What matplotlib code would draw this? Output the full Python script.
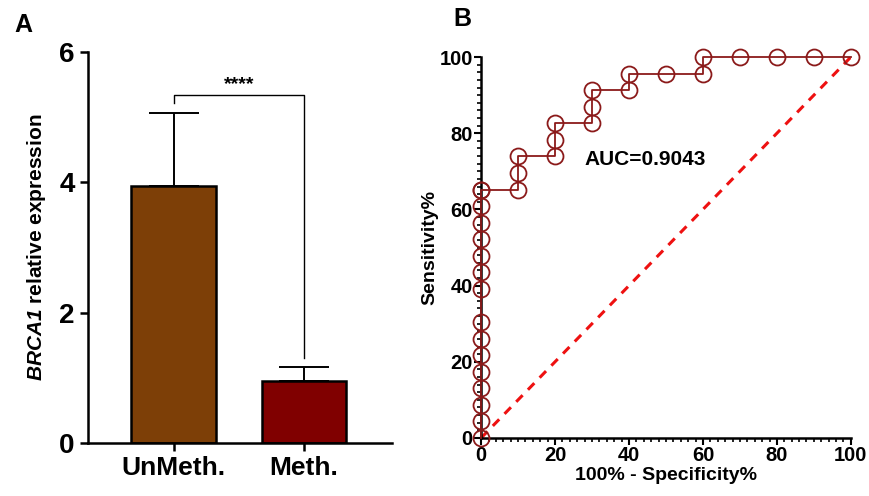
import matplotlib.pyplot as plt
from matplotlib.ticker import MultipleLocator

plt.rcParams['font.family'] = ['Liberation Sans', 'DejaVu Sans']
plt.rcParams['font.weight'] = 'bold'
plt.rcParams['mathtext.fontset'] = 'custom'
plt.rcParams['mathtext.it'] = 'Liberation Sans:italic:bold'
plt.rcParams['mathtext.rm'] = 'Liberation Sans:italic:bold'

# panel A data
groups = ["UnMeth.", "Meth."]
means = [3.95, 0.95]
sds = [1.12, 0.22]
bar_colors = ["#7D3F07", "#800000"]
sig_label = "****"

# panel B data (ROC)
spec = [0, 0, 0, 0, 0, 0, 0, 0, 0, 0, 0, 0, 0, 0, 0, 0,
        10, 10, 10, 20, 20, 20, 30, 30, 30, 40, 40, 50, 60, 60, 70, 80, 90, 100]
sens = [0, 4.35, 8.70, 13.04, 17.39, 21.74, 26.09, 30.43, 39.13, 43.48,
        47.83, 52.17, 56.52, 60.87, 65.22, 65.22,
        65.22, 69.57, 73.91, 73.91, 78.26, 82.61, 82.61, 86.96, 91.30,
        91.30, 95.65, 95.65, 95.65, 100, 100, 100, 100, 100]
auc = 0.9043

fig = plt.figure(figsize=(8.7, 4.96), dpi=100)

# ---- A ----
ax1 = fig.add_axes([0.101, 0.107, 0.350, 0.788])
x = [0, 1]
ax1.bar(x, means, width=0.65, color=bar_colors, edgecolor='black', linewidth=1.8, zorder=2)
for xi, m, s in zip(x, means, sds):
    ax1.errorbar(xi, m, yerr=[[0], [s]], color='black', capsize=18, capthick=1.4,
                 elinewidth=1.4, zorder=1)
ax1.plot([0, 0, 1, 1], [5.22, 5.34, 5.34, 1.30], color='black', lw=1.0)
ax1.text(0.5, 5.37, sig_label, ha='center', va='bottom', fontsize=14)
ax1.set_xlim(-0.66, 1.68)
ax1.set_ylim(0, 6)
ax1.set_yticks([0, 2, 4, 6])
ax1.set_xticks(x)
ax1.set_xticklabels(groups, fontsize=19, fontweight='bold')
ax1.tick_params(axis='y', labelsize=20, width=1.8, length=6)
ax1.tick_params(axis='x', width=1.8, length=6)
for t in ax1.get_yticklabels():
    t.set_fontweight('bold')
for sp in ['top', 'right']:
    ax1.spines[sp].set_visible(False)
for sp in ['left', 'bottom']:
    ax1.spines[sp].set_linewidth(1.8)
ax1.set_ylabel(r"$\mathrm{BRCA1}$ relative expression", fontsize=15, fontweight='bold',
               labelpad=8)
fig.text(0.016, 0.935, "A", fontsize=18, fontweight='bold')

# ---- B ----
ax2 = fig.add_axes([0.553, 0.117, 0.425, 0.768])
ax2.plot([0, 100], [0, 100], color='#EE1111', ls=(0, (3, 2.5)), lw=2.2, zorder=1)
ax2.plot(spec, sens, color='#8B1A1A', lw=1.3, marker='o', markersize=11.5,
         markerfacecolor='none', markeredgecolor='#8B1A1A', markeredgewidth=1.3,
         clip_on=False, zorder=3)
ax2.text(28, 73, "AUC=%.4f" % auc, fontsize=15, fontweight='bold', va='center')
ax2.set_xlim(0, 100)
ax2.set_ylim(0, 100)
ax2.xaxis.set_major_locator(MultipleLocator(20))
ax2.yaxis.set_major_locator(MultipleLocator(20))
ax2.xaxis.set_minor_locator(MultipleLocator(2))
ax2.yaxis.set_minor_locator(MultipleLocator(2))
ax2.tick_params(which='major', labelsize=14.5, width=1.5, length=5, pad=1)
ax2.tick_params(which='minor', width=1.2, length=3)
for t in ax2.get_xticklabels() + ax2.get_yticklabels():
    t.set_fontweight('bold')
for sp in ['top', 'right']:
    ax2.spines[sp].set_visible(False)
for sp in ['left', 'bottom']:
    ax2.spines[sp].set_linewidth(1.8)
ax2.set_xlabel("100% - Specificity%", fontsize=14, fontweight='bold', labelpad=1)
ax2.set_ylabel("Sensitivity%", fontsize=14, fontweight='bold', labelpad=1)
fig.text(0.521, 0.948, "B", fontsize=18, fontweight='bold')

fig.savefig('out.png', dpi=100)
plt.close()
